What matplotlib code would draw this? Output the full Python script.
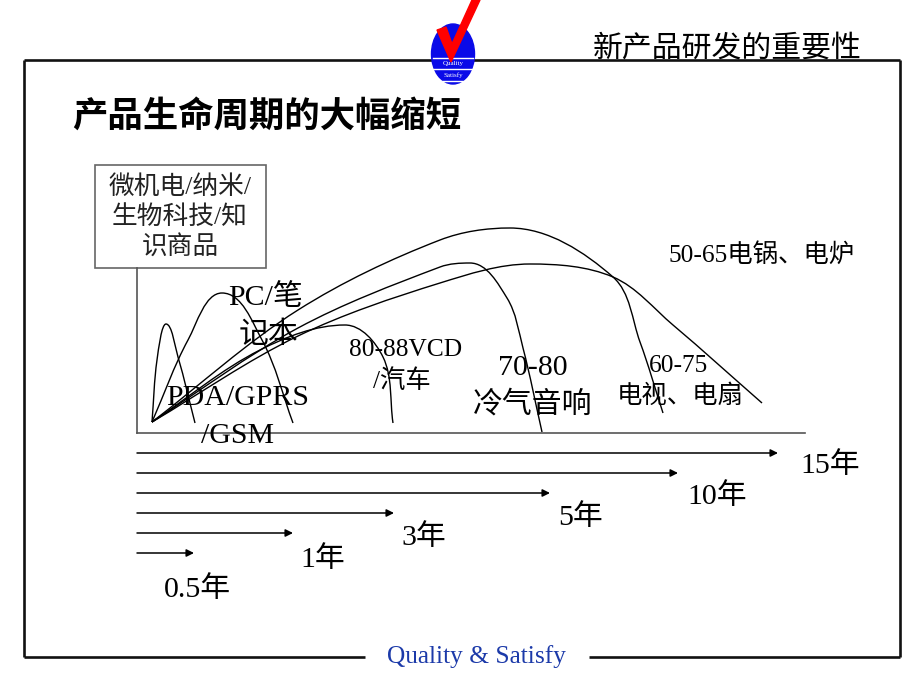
import numpy as np
import matplotlib
matplotlib.use("Agg")
import matplotlib.pyplot as plt
from matplotlib.path import Path
from matplotlib.patches import PathPatch, Rectangle, Ellipse, Polygon
from matplotlib.transforms import Affine2D

SERIF = ['Liberation Serif', 'Noto Sans CJK SC']
CJK = ['Noto Sans CJK SC', 'DejaVu Sans']

# product life cycles, diagram units (x right, y up from the axis corner)
pda_x = [15, 20, 29, 41, 58]
pda_y = [11, 73, 109, 76, 10]
pc_x = [15, 51, 85, 125, 156]
pc_y = [11, 93, 140, 93, 10]
vcd_x = [15, 123, 208, 246, 256]
vcd_y = [11, 83, 108, 76, 10]
audio_x = [15, 161, 303, 333, 370, 386, 405]
audio_y = [11, 105, 166, 170, 135, 85, 1]
tv_x = [15, 161, 303, 373, 476, 503, 526]
tv_y = [11, 123, 193, 205, 156, 91, 20]
cooker_x = [15, 161, 303, 393, 476, 536, 625]
cooker_y = [11, 97, 150, 169, 156, 108, 30]

# life-cycle length arrows
durations = ['0.5年', '1年', '3年', '5年', '10年', '15年']
arrow_len = [57, 156, 257, 413, 541, 641]

# layout (figure pixels)
arrow_y = [553, 533, 513, 493, 473, 453]
dur_pos = [(197, 590), (323, 560), (424, 538), (581, 518), (717, 497), (830, 466)]


def smooth_path(xs, ys):
    # smooth curve through the points, flat at the top of the cycle
    pts = np.column_stack([xs, ys]).astype(float)
    n = len(pts)
    top = int(np.argmax(pts[:, 1]))
    tang = []
    for i in range(n):
        if i == top:
            d = np.array([1.0, 0.0])
        elif i == 0:
            d = pts[1] - pts[0]
        elif i == n - 1:
            d = pts[-1] - pts[-2]
        else:
            d = pts[i + 1] - pts[i - 1]
        tang.append(d / np.hypot(*d))
    verts = [pts[0]]
    codes = [Path.MOVETO]
    for i in range(n - 1):
        seg = pts[i + 1] - pts[i]
        L = np.hypot(*seg) / 3
        h0 = min(L, 0.5 * abs(seg[0])) if i == top else L
        h1 = min(L, 0.5 * abs(seg[0])) if i + 1 == top else L
        verts += [pts[i] + tang[i] * h0, pts[i + 1] - tang[i + 1] * h1, pts[i + 1]]
        codes += [Path.CURVE4] * 3
    return Path(verts, codes)


fig = plt.figure(figsize=(9.2, 6.9), dpi=100)
ax = fig.add_axes([0, 0, 1, 1])
ax.set_xlim(0, 920)
ax.set_ylim(690, 0)
ax.axis('off')

# slide frame
frame = dict(color='#111111', lw=1.9, solid_capstyle='butt')
ax.plot([24, 900], [60, 60], **frame)
ax.plot([24, 24], [60, 657], **frame)
ax.plot([900, 900], [60, 657], **frame)
ax.plot([24, 365], [657, 657], **frame)
ax.plot([589, 900], [657, 657], **frame)
ax.text(477, 657, 'Quality & Satisfy', family=SERIF, fontsize=18.3,
        color='#1c3aa9', ha='center', va='center')

# logo
ax.add_patch(Ellipse((453, 54), 43, 60, color='#0a0ae8', zorder=5))
for sy in [58, 69, 81]:
    ax.plot([433, 473], [sy, sy], color='white', lw=1.0, zorder=6)
ax.text(453, 63.5, 'Quality', family=SERIF, fontsize=5, color='white',
        ha='center', va='center', zorder=7)
ax.text(453, 75, 'Satisfy', family=SERIF, fontsize=5, color='white',
        ha='center', va='center', zorder=7)
ax.add_patch(Polygon([(437, 30), (446, 27), (452, 44), (472, 0), (480, 0),
                      (451, 62)], closed=True, color='#ff0000', zorder=8))

ax.text(727, 48, '新产品研发的重要性', family=CJK, fontsize=21.5,
        ha='center', va='center', color='black', zorder=9)
ax.text(267, 116, '产品生命周期的大幅缩短', family=CJK, fontsize=25.5,
        weight='bold', ha='center', va='center', color='black')

# new-tech box
ax.add_patch(Rectangle((95, 165), 171, 103, fill=False, ec='#666666', lw=1.2))
for t, ty in zip(['微机电/纳米/', '生物科技/知', '识商品'], [187, 217, 247]):
    ax.text(180, ty, t, family=SERIF, fontsize=18.5, ha='center', va='center',
            color='#222222')

# diagram axes
axis_kw = dict(color='#555555', lw=1.2)
ax.plot([137, 137], [268, 433], **axis_kw)
ax.plot([137, 805], [433, 433], **axis_kw)

dg = Affine2D().scale(1, -1).translate(137, 433) + ax.transData
for xs, ys in [(pda_x, pda_y), (pc_x, pc_y), (vcd_x, vcd_y),
               (audio_x, audio_y), (tv_x, tv_y), (cooker_x, cooker_y)]:
    ax.add_patch(PathPatch(smooth_path(xs, ys), fill=False, ec='black',
                           lw=1.0, transform=dg))

# curve labels
lab = dict(family=SERIF, ha='center', va='center', color='black')
ax.text(266, 298, 'PC/笔', fontsize=21.5, **lab)
ax.text(268, 335, '记本', fontsize=21.5, **lab)
ax.text(238, 398, 'PDA/GPRS', fontsize=21.5, **lab)
ax.text(238, 436, '/GSM', fontsize=21.5, **lab)
ax.text(406, 350, '80-88VCD', fontsize=18.3, **lab)
ax.text(402, 381, '/汽车', fontsize=18.3, **lab)
ax.text(533, 368, '70-80', fontsize=21.5, **lab)
ax.text(533, 405, '冷气音响', fontsize=21.5, **lab)
ax.text(679, 366, '60-75', fontsize=18.3, **lab)
ax.text(680, 396, '电视、电扇', fontsize=18.3, **lab)
ax.text(762, 255, '50-65电锅、电炉', fontsize=18.3, **lab)

# duration arrows
for d, L, ay, (lx, ly) in zip(durations, arrow_len, arrow_y, dur_pos):
    ax.annotate('', xy=(137 + L, ay), xytext=(137, ay),
                arrowprops=dict(arrowstyle='-|>', color='black', lw=1.1,
                                mutation_scale=11, shrinkA=0, shrinkB=0))
    ax.text(lx, ly, d, fontsize=21.5, **lab)

fig.savefig('out.png', dpi=100, facecolor='white')
